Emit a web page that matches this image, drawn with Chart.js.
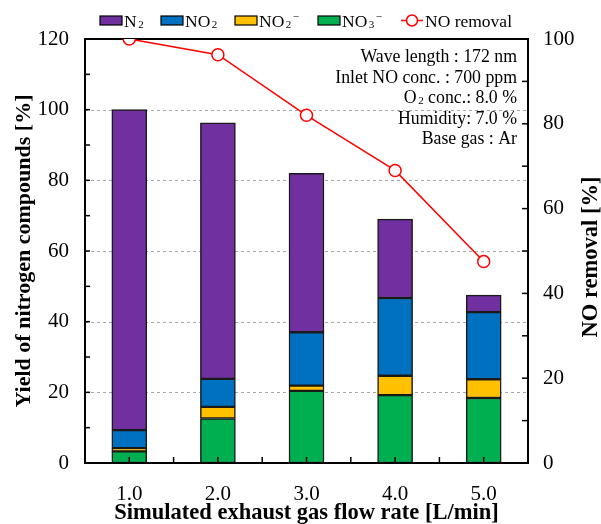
<!DOCTYPE html>
<html>
<head>
<meta charset="utf-8">
<script src="https://cdn.jsdelivr.net/npm/chart.js@4"></script>
<style>
  body { margin: 0; background: #fff; }
</style>
</head>
<body>
<canvas id="myChart" width="601" height="524"></canvas>
<script>
// flow rate categories and yields (stacked bottom -> top)
const flowRates = ['1.0', '2.0', '3.0', '4.0', '5.0'];
const no3Yield = [3.3, 12.6, 20.4, 19.2, 18.4];
const no2IonYield = [0.9, 3.3, 1.5, 5.5, 5.3];
const no2Yield = [5.1, 7.9, 15.1, 22.0, 19.0];
const n2Yield = [90.7, 72.5, 45.0, 22.3, 4.8];
const noRemoval = [100, 96.3, 82.0, 69.0, 47.5];
const yieldGridValues = [20, 40, 60, 80, 100];

const serif = "'Liberation Serif', 'Times New Roman', serif";
Chart.defaults.font.family = serif;
Chart.defaults.color = '#000';

// text with small sub/superscripts, parts = [[text, 'n'|'sub'|'sup'], ...]
function richWidth(ctx, parts, size) {
    let w = 0;
    parts.forEach(([t, k]) => {
        ctx.font = (k === 'n' ? size : Math.round(size * 0.6)) + 'px ' + serif;
        w += ctx.measureText(t).width + (k === 'n' ? 0 : 1.5);
    });
    return w;
}
function drawRich(ctx, parts, x, y, size) {
    parts.forEach(([t, k]) => {
        if (k === 'n') {
            ctx.font = size + 'px ' + serif;
            ctx.fillText(t, x, y);
        } else {
            ctx.font = Math.round(size * 0.6) + 'px ' + serif;
            x += 1.5;
            ctx.fillText(t, x, k === 'sub' ? y + 1 : y - 7);
        }
        x += ctx.measureText(t).width;
    });
}

const decor = {
    id: 'decor',
    beforeDatasetsDraw(chart) {
        const {ctx, chartArea: a, scales: {y}} = chart;
        ctx.save();
        ctx.strokeStyle = '#a6a6a6';
        ctx.lineWidth = 1;
        ctx.setLineDash([3, 3]);
        yieldGridValues.forEach(v => {
            const py = Math.round(y.getPixelForValue(v)) + 0.5;
            ctx.beginPath();
            ctx.moveTo(a.left, py);
            ctx.lineTo(a.right, py);
            ctx.stroke();
        });
        ctx.restore();
    },
    beforeDatasetDraw(chart, args) {
        if (args.meta.type !== 'line') return;
        const {ctx, chartArea: a, scales: {x, y, y2}} = chart;
        ctx.save();
        ctx.strokeStyle = '#000';
        ctx.lineWidth = 1.5;
        const tick = (x1, y1, x2, y2_) => {
            ctx.beginPath(); ctx.moveTo(x1, y1); ctx.lineTo(x2, y2_); ctx.stroke();
        };
        for (let v = 10; v < 120; v += 10) {
            const py = y.getPixelForValue(v);
            tick(a.left, py, a.left + 5, py);
        }
        for (let v = 10; v < 100; v += 10) {
            const py = y2.getPixelForValue(v);
            tick(a.right, py, a.right - 6, py);
        }
        for (let i = 0; i < flowRates.length; i++) {
            const px = x.getPixelForValue(i);
            tick(px, a.bottom, px, a.bottom - 6);
            if (i < flowRates.length - 1) {
                const mx = (px + x.getPixelForValue(i + 1)) / 2;
                tick(mx, a.bottom, mx, a.bottom - 6);
            }
        }
        ctx.lineWidth = 2;
        ctx.strokeRect(a.left, a.top, a.right - a.left, a.bottom - a.top);
        ctx.restore();
    },
    afterDraw(chart) {
        const {ctx} = chart;
        ctx.save();
        ctx.fillStyle = '#000';
        ctx.textBaseline = 'alphabetic';
        ctx.textAlign = 'left';

        // legend
        const items = [
            {c: '#7030A0', x: 100, parts: [['N', 'n'], ['2', 'sub']]},
            {c: '#0070C0', x: 161, parts: [['NO', 'n'], ['2', 'sub']]},
            {c: '#FFC000', x: 235, parts: [['NO', 'n'], ['2', 'sub'], ['\u2212', 'sup']]},
            {c: '#00B050', x: 318, parts: [['NO', 'n'], ['3', 'sub'], ['\u2212', 'sup']]}
        ];
        items.forEach(it => {
            ctx.fillStyle = it.c;
            ctx.fillRect(it.x, 16, 22, 9);
            ctx.strokeStyle = '#000';
            ctx.lineWidth = 1.2;
            ctx.strokeRect(it.x, 16, 22, 9);
            ctx.fillStyle = '#000';
            drawRich(ctx, it.parts, it.x + 24, 27, 17.5);
        });
        ctx.strokeStyle = '#FF0000';
        ctx.lineWidth = 1.5;
        ctx.beginPath(); ctx.moveTo(401, 20.5); ctx.lineTo(423, 20.5); ctx.stroke();
        ctx.beginPath(); ctx.arc(412, 20.5, 5.5, 0, Math.PI * 2);
        ctx.fillStyle = '#fff'; ctx.fill(); ctx.stroke();
        ctx.fillStyle = '#000';
        drawRich(ctx, [['NO removal', 'n']], 425, 27, 17.5);

        // conditions box text, right aligned
        const lines = [
            [['Wave length : 172 nm', 'n']],
            [['Inlet NO conc. : 700 ppm', 'n']],
            [['O', 'n'], ['2', 'sub'], [' conc.: 8.0 %', 'n']],
            [['Humidity: 7.0 %', 'n']],
            [['Base gas : Ar', 'n']]
        ];
        lines.forEach((parts, i) => {
            const w = richWidth(ctx, parts, 17.8);
            drawRich(ctx, parts, 517 - w, 62 + i * 20.5, 17.8);
        });

        // right axis title (reads bottom to top)
        ctx.translate(591, 257);
        ctx.rotate(-Math.PI / 2);
        ctx.font = 'bold 22.5px ' + serif;
        ctx.textAlign = 'center';
        ctx.textBaseline = 'middle';
        ctx.fillText('NO removal [%]', 0, 0);
        ctx.restore();
    }
};

const ctx = document.getElementById('myChart').getContext('2d');
const myChart = new Chart(ctx, {
    type: 'bar',
    data: {
        labels: flowRates,
        datasets: [
            {label: 'NO\u2083\u207B', data: no3Yield, backgroundColor: '#00B050'},
            {label: 'NO\u2082\u207B', data: no2IonYield, backgroundColor: '#FFC000'},
            {label: 'NO\u2082', data: no2Yield, backgroundColor: '#0070C0'},
            {label: 'N\u2082', data: n2Yield, backgroundColor: '#7030A0'},
            {
                type: 'line',
                label: 'NO removal',
                data: noRemoval,
                yAxisID: 'y2',
                order: 0,
                borderColor: '#FF0000',
                borderWidth: 1.5,
                pointRadius: 6,
                pointBackgroundColor: '#fff',
                pointBorderColor: '#FF0000',
                pointBorderWidth: 1.5,
                tension: 0
            }
        ].map(d => d.type ? d : Object.assign(d, {
            order: 1, borderColor: '#1a1a1a', borderWidth: 1.5, borderSkipped: false, barThickness: 35
        }))
    },
    options: {
        responsive: false,
        animation: false,
        layout: {padding: {top: 39, left: 0, right: 0, bottom: 0}},
        plugins: {legend: {display: false}, tooltip: {enabled: false}},
        scales: {
            x: {
                stacked: true,
                offset: true,
                grid: {display: false, drawTicks: false},
                border: {display: false},
                ticks: {font: {size: 21}, padding: 19},
                title: {
                    display: true,
                    text: 'Simulated exhaust gas flow rate [L/min]',
                    font: {size: 22.5, weight: 'bold', lineHeight: 1},
                    padding: {top: 0, bottom: 0}
                },
                afterFit(s) { s.height = 61; }
            },
            y: {
                position: 'left',
                stacked: true,
                min: 0,
                max: 120,
                grid: {display: false, drawTicks: false},
                border: {display: false},
                ticks: {
                    stepSize: 10,
                    autoSkip: false,
                    font: {size: 21},
                    padding: 16,
                    callback: v => (v % 20 === 0 ? v : '')
                },
                title: {
                    display: true,
                    text: 'Yield of nitrogen compounds [%]',
                    font: {size: 22, weight: 'bold', lineHeight: 1},
                    padding: {top: 13, bottom: 0}
                },
                afterFit(s) { s.width = 85; }
            },
            y2: {
                position: 'right',
                stacked: false,
                min: 0,
                max: 100,
                grid: {display: false, drawTicks: false},
                border: {display: false},
                ticks: {
                    stepSize: 10,
                    autoSkip: false,
                    font: {size: 21},
                    padding: 15,
                    callback: v => (v % 20 === 0 ? v : '')
                },
                afterFit(s) { s.width = 73; }
            }
        }
    },
    plugins: [decor]
});
</script>
</body>
</html>
